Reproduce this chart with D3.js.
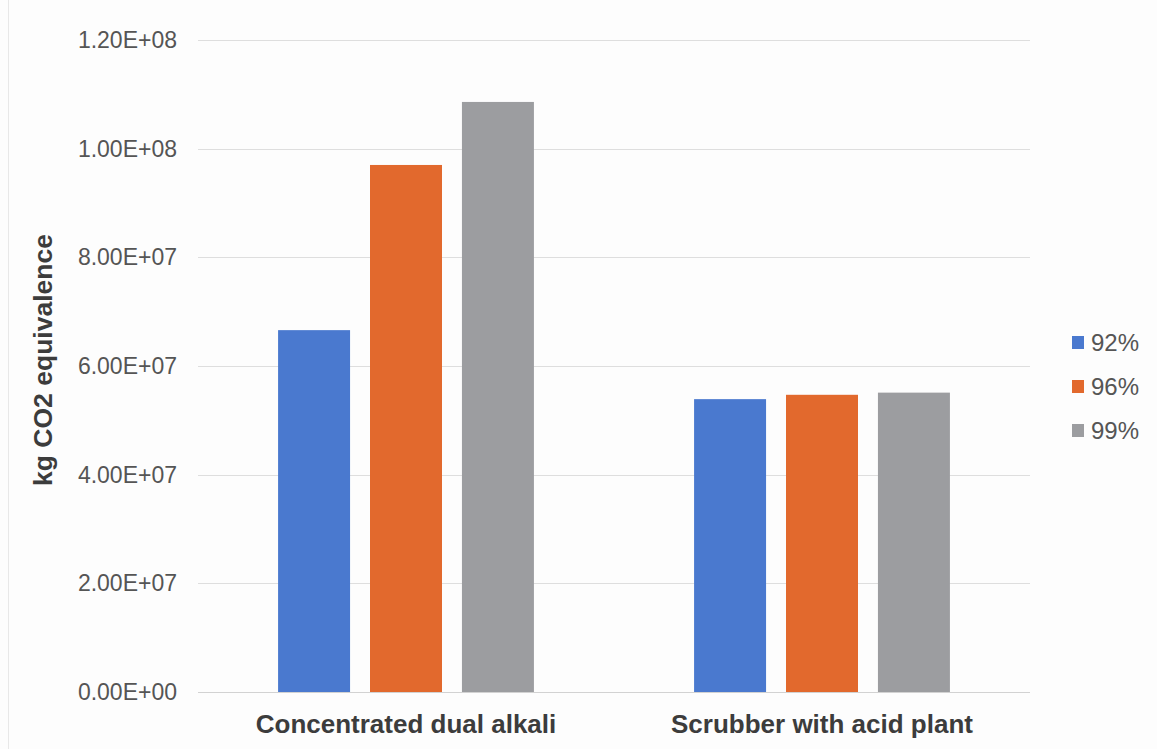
<!DOCTYPE html>
<html>
<head>
<meta charset="utf-8">
<script src="https://cdn.jsdelivr.net/npm/d3@7"></script>
<style>
  html, body { margin: 0; padding: 0; background: #fdfdfd; }
  svg { display: block; font-family: "Liberation Sans", Arial, sans-serif; }
</style>
</head>
<body>
<svg id="chart" width="1157" height="749"></svg>
<script>
// Emissions per process option at three capture efficiencies
const categories = ["Concentrated dual alkali", "Scrubber with acid plant"];
const seriesNames = ["92%", "96%", "99%"];
const values92 = [6.66e7, 5.39e7];
const values96 = [9.70e7, 5.47e7];
const values99 = [1.086e8, 5.51e7];
const yTicks = [0, 2e7, 4e7, 6e7, 8e7, 1e8, 1.2e8];
const yTickLabels = ["0.00E+00", "2.00E+07", "4.00E+07", "6.00E+07", "8.00E+07", "1.00E+08", "1.20E+08"];
const colors = ["#4a79cf", "#e2692d", "#9c9da0"];

const seriesValues = [values92, values96, values99];

const svg = d3.select("#chart");
const plot = { left: 198, right: 1030, top: 40, bottom: 692 };

// faint frame edge on the left
svg.append("line")
  .attr("x1", 8.5).attr("x2", 8.5).attr("y1", 0).attr("y2", 749)
  .attr("stroke", "#e8e8e8").attr("stroke-width", 1);

const y = d3.scaleLinear().domain([0, 1.2e8]).range([plot.bottom, plot.top]);

const x0 = d3.scaleBand().domain(categories).range([plot.left, plot.right]).padding(0);
const groupWidth = x0.bandwidth() * 0.615;
const x1 = d3.scaleBand().domain(seriesNames).range([0, groupWidth]).paddingInner(0.217).paddingOuter(0);

// gridlines
svg.append("g")
  .selectAll("line")
  .data(yTicks)
  .join("line")
  .attr("x1", plot.left).attr("x2", plot.right)
  .attr("y1", d => Math.round(y(d)) + 0.5).attr("y2", d => Math.round(y(d)) + 0.5)
  .attr("stroke", d => d === 0 ? "#d2d2d2" : "#dedede")
  .attr("stroke-width", 1.2);

// y axis labels
const yAxis = d3.axisLeft(y)
  .tickValues(yTicks)
  .tickFormat((d, i) => yTickLabels[i])
  .tickSize(0)
  .tickPadding(0);
const yg = svg.append("g").attr("transform", `translate(177,0)`).call(yAxis);
yg.select(".domain").remove();
yg.selectAll("text")
  .attr("font-size", 23)
  .attr("fill", "#555555")
  .attr("font-family", "'Liberation Sans', Arial, sans-serif");

// bars
const rows = categories.map((c, ci) => ({ category: c, vals: seriesNames.map((s, si) => ({ series: s, si, value: seriesValues[si][ci] })) }));
const groups = svg.append("g").selectAll("g")
  .data(rows)
  .join("g")
  .attr("transform", d => `translate(${x0(d.category) + (x0.bandwidth() - groupWidth) / 2},0)`);
groups.selectAll("rect")
  .data(d => d.vals)
  .join("rect")
  .attr("x", d => x1(d.series))
  .attr("width", x1.bandwidth())
  .attr("y", d => y(d.value))
  .attr("height", d => y(0) - y(d.value))
  .attr("fill", d => colors[d.si]);

// category axis labels
const xAxis = d3.axisBottom(x0).tickSize(0).tickPadding(0);
const xg = svg.append("g").attr("transform", `translate(0,733)`).call(xAxis);
xg.select(".domain").remove();
xg.selectAll("text")
  .attr("y", 0)
  .attr("dy", 0)
  .attr("font-size", 26)
  .attr("font-weight", "bold")
  .attr("fill", "#3c3c3c")
  .attr("font-family", "'Liberation Sans', Arial, sans-serif");

// y axis title
svg.append("text")
  .attr("transform", "translate(52,360) rotate(-90)")
  .attr("text-anchor", "middle")
  .attr("font-size", 26.5)
  .attr("font-weight", "bold")
  .attr("fill", "#3c3c3c")
  .text("kg CO2 equivalence");

// legend
const legend = svg.append("g").selectAll("g")
  .data(seriesNames)
  .join("g")
  .attr("transform", (d, i) => `translate(1072,${342 + i * 44})`);
legend.append("rect")
  .attr("x", 0).attr("y", -6).attr("width", 12).attr("height", 13)
  .attr("fill", (d, i) => colors[i]);
legend.append("text")
  .attr("x", 19).attr("y", 0).attr("dy", "0.36em")
  .attr("font-size", 24)
  .attr("fill", "#555555")
  .text(d => d);
</script>
</body>
</html>
